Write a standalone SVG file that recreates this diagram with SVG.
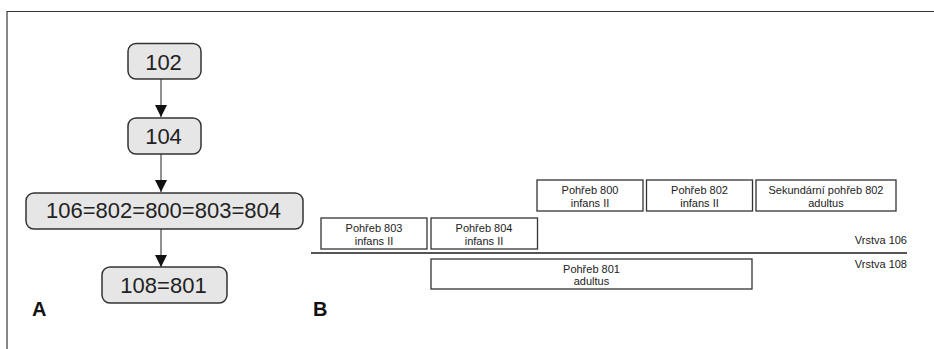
<svg xmlns="http://www.w3.org/2000/svg" width="934" height="349" viewBox="0 0 934 349">
<style>
.nd{fill:#e6e6e6;stroke:#333;stroke-width:1.5}
.nt{font-family:"Liberation Sans",Arial,sans-serif;font-size:22px;fill:#222;text-anchor:middle}
.bx{fill:#fff;stroke:#333;stroke-width:1.3}
.bt{font-family:"Liberation Sans",Arial,sans-serif;font-size:11px;fill:#222;text-anchor:middle}
.lb{font-family:"Liberation Sans",Arial,sans-serif;font-size:11px;fill:#222;text-anchor:end}
.big{font-family:"Liberation Sans",Arial,sans-serif;font-size:20px;font-weight:bold;fill:#111}
.ed{stroke:#555;stroke-width:1.3;fill:none}
</style>
<defs>
<marker id="ah" markerUnits="userSpaceOnUse" markerWidth="16" markerHeight="12" refX="14" refY="7" orient="auto" viewBox="0 0 14 14">
<path d="M0,0 L14,7 L0,14 Z" fill="#111"/>
</marker>
</defs>
<rect width="934" height="349" fill="#fff"/>
<line x1="7" y1="11" x2="7" y2="349" stroke="#888" stroke-width="2"/>
<line x1="7" y1="11.5" x2="934" y2="11.5" stroke="#333" stroke-width="1"/>

<g id="edges">
<line class="ed" x1="161" y1="79" x2="161" y2="117" marker-end="url(#ah)"/>
<line class="ed" x1="161" y1="154" x2="161" y2="192" marker-end="url(#ah)"/>
<line class="ed" x1="161" y1="229" x2="161" y2="267" marker-end="url(#ah)"/>
</g>

<g id="n102"><rect class="nd" x="128" y="43.5" width="73" height="35.5" rx="8"/><text class="nt" x="163.5" y="70">102</text></g>
<g id="n104"><rect class="nd" x="128" y="118" width="73" height="36" rx="8"/><text class="nt" x="163.5" y="144">104</text></g>
<g id="n106"><rect class="nd" x="26" y="193" width="277" height="36" rx="8"/><text class="nt" x="163.5" y="218">106=802=800=803=804</text></g>
<g id="n108"><rect class="nd" x="102" y="267" width="125" height="36" rx="8"/><text class="nt" x="163.5" y="293">108=801</text></g>

<text class="big" x="32" y="316">A</text>
<text class="big" x="313" y="316">B</text>

<g id="b800"><rect class="bx" x="537" y="180" width="106" height="31"/><text class="bt" x="590" y="194">Pohřeb 800</text><text class="bt" x="590" y="206.5">infans II</text></g>
<g id="b802"><rect class="bx" x="646.5" y="180" width="106" height="31"/><text class="bt" x="699.5" y="194">Pohřeb 802</text><text class="bt" x="699.5" y="206.5">infans II</text></g>
<g id="bsek"><rect class="bx" x="756" y="180" width="140" height="31"/><text class="bt" x="826" y="194">Sekundární pohřeb 802</text><text class="bt" x="826" y="206.5">adultus</text></g>
<g id="b803"><rect class="bx" x="321" y="218" width="106" height="31"/><text class="bt" x="374" y="232">Pohřeb 803</text><text class="bt" x="374" y="244.5">infans II</text></g>
<g id="b804"><rect class="bx" x="431" y="218" width="106.5" height="31"/><text class="bt" x="484" y="232">Pohřeb 804</text><text class="bt" x="484" y="244.5">infans II</text></g>
<g id="b801"><rect class="bx" x="431" y="259" width="321" height="30"/><text class="bt" x="591.5" y="272.5">Pohřeb 801</text><text class="bt" x="591.5" y="284.5">adultus</text></g>

<line x1="311" y1="253" x2="907" y2="253" stroke="#555" stroke-width="2"/>
<text class="lb" x="907" y="244">Vrstva 106</text>
<text class="lb" x="907" y="268">Vrstva 108</text>
</svg>
